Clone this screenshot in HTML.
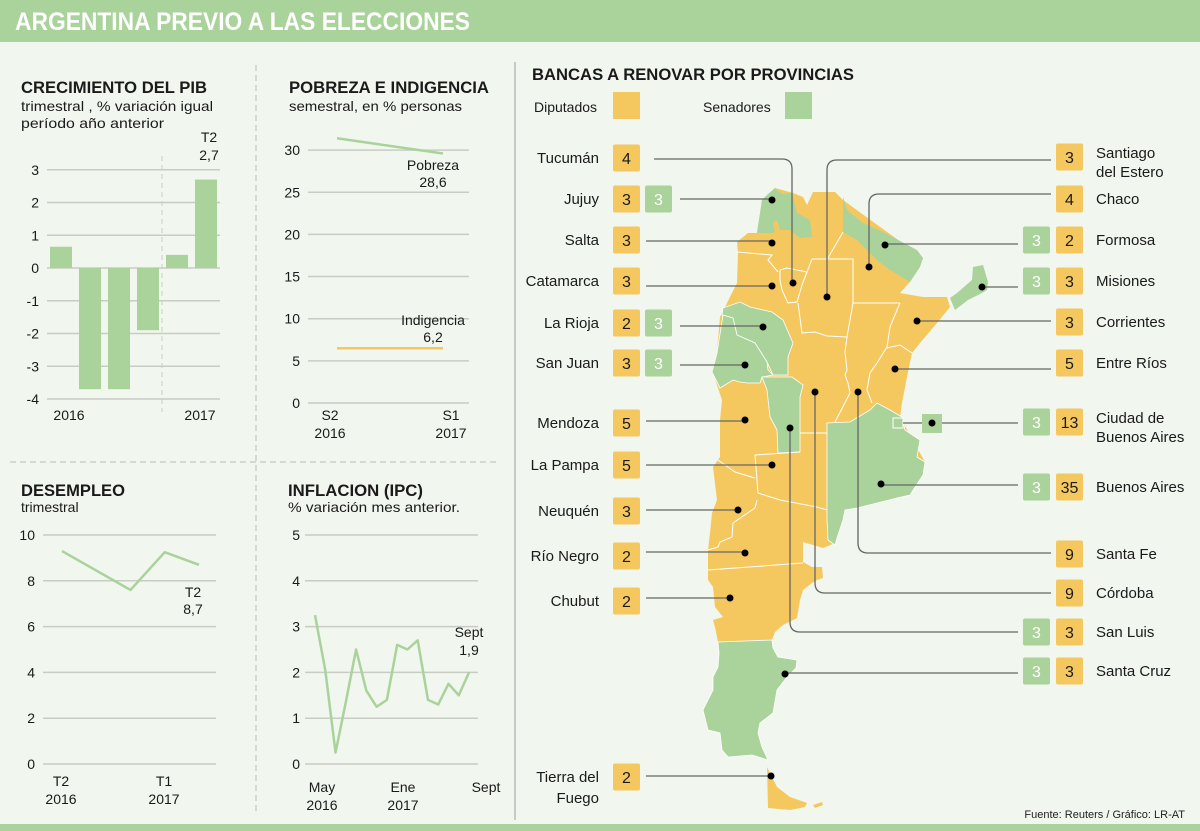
<!DOCTYPE html>
<html><head><meta charset="utf-8">
<style>
html,body{margin:0;padding:0;background:#f1f6ee;}
svg{display:block;font-family:"Liberation Sans",sans-serif;}
.t{font-size:14px;fill:#1a1a1a;}
.h{font-weight:bold;font-size:17px;fill:#1a1a1a;}
.g{stroke:#c8ccc4;stroke-width:1.5;}
</style></head>
<body>
<svg id="root" width="1200" height="831" viewBox="0 0 1200 831">
<rect x="0" y="0" width="1200" height="831" fill="#f1f6ee"/>
<rect x="0" y="0" width="1200" height="42" fill="#a9d39b"/>
<text x="15" y="30" fill="#fff" font-weight="bold" font-size="25" textLength="455" lengthAdjust="spacingAndGlyphs">ARGENTINA PREVIO A LAS ELECCIONES</text>
<rect x="0" y="824" width="1200" height="7" fill="#a9d39b"/>
<line x1="256" y1="65" x2="256" y2="815" stroke="#bbb" stroke-dasharray="6,4"/>
<line x1="10" y1="462" x2="500" y2="462" stroke="#bbb" stroke-dasharray="6,4"/>
<line x1="515" y1="62" x2="515" y2="820" stroke="#bbb" stroke-width="1.5"/>

<!-- PIB -->
<text x="21" y="93" class="h" textLength="186" lengthAdjust="spacingAndGlyphs">CRECIMIENTO DEL PIB</text>
<text x="21" y="111" class="t" textLength="192" lengthAdjust="spacingAndGlyphs">trimestral , % variación igual</text>
<text x="21" y="128" class="t" textLength="143" lengthAdjust="spacingAndGlyphs">período año anterior</text>
<g id="pib"></g>

<!-- Pobreza -->
<text x="289" y="93" class="h" textLength="200" lengthAdjust="spacingAndGlyphs">POBREZA E INDIGENCIA</text>
<text x="289" y="111" class="t" textLength="173" lengthAdjust="spacingAndGlyphs">semestral, en % personas</text>
<g id="pob"></g>

<!-- Desempleo -->
<text x="21" y="496" class="h" textLength="104" lengthAdjust="spacingAndGlyphs">DESEMPLEO</text>
<text x="21" y="512" class="t">trimestral</text>
<g id="des"></g>

<!-- Inflacion -->
<text x="288" y="496" class="h" textLength="135" lengthAdjust="spacingAndGlyphs">INFLACION (IPC)</text>
<text x="288" y="512" class="t" textLength="172" lengthAdjust="spacingAndGlyphs">% variación mes anterior.</text>
<g id="inf"></g>

<!-- Map section -->
<text x="532" y="80" class="h" textLength="322" lengthAdjust="spacingAndGlyphs">BANCAS A RENOVAR POR PROVINCIAS</text>
<text x="534" y="112" class="t" font-size="15">Diputados</text>
<rect x="613" y="92" width="27" height="27" fill="#f5c85f"/>
<text x="703" y="112" class="t" font-size="15">Senadores</text>
<rect x="785" y="92" width="27" height="27" fill="#a9d39b"/>

<g id="map">
<polygon fill="#f5c85f" points="737,242 748,233 757,233 762,200 775,188 793,193 803,197 807,205 813,192 835,192 843,200 923,258 910,282 900,293 923,297 947,297 950,307 937,323 920,343 912,353 907,377 902,403 900,417 925,462 910,495 845,510 835,543 823,548 803,542 803,562 812,567 822,567 823,578 817,580 812,583 803,590 800,600 797,618 783,625 775,632 772,640 718,642 715,627 713,620 723,617 715,607 713,587 708,580 708,550 710,533 712,513 717,500 713,467 720,457 720,420 722,400 718,388 712,370 717,352 720,317 730,297 737,283 738,253"/>
<polygon fill="#a9d39b" points="757,233 762,200 767,195 775,188 782,194 792,193 797,213 810,220 812,237 800,238 790,230 780,230 777,220 773,223 775,232 772,233"/>
<polygon fill="#a9d39b" points="843,197 847,210 863,223 883,232 917,250 923,258 920,267 910,282 890,270 877,260 857,240 843,232"/>
<polygon fill="#a9d39b" points="950,298 957,293 972,280 973,267 983,265 988,282 987,290 980,294 968,300 955,310"/>
<polygon fill="#a9d39b" stroke="#fff" stroke-width="0.8" points="722,315 723,308 740,302 750,307 772,312 783,320 793,343 788,357 788,375 773,375 767,362 755,343 737,335 733,318"/>
<polygon fill="#a9d39b" stroke="#fff" stroke-width="0.8" points="723,315 733,318 737,335 755,343 767,362 768,370 773,375 762,377 760,383 747,383 740,382 733,380 720,388 712,372 717,353"/>
<polygon fill="#a9d39b" stroke="#fff" stroke-width="0.8" points="762,377 792,377 803,385 800,397 800,452 778,453 777,430 770,417 767,390"/>
<polygon fill="#a9d39b" stroke="#fff" stroke-width="0.8" points="827,423 850,422 870,410 877,403 890,410 902,417 905,430 920,440 917,457 925,462 923,475 910,495 897,498 877,503 857,508 845,510 843,520 838,535 835,545 828,540 827,520"/>
<polygon fill="#a9d39b" stroke="#fff" stroke-width="0.8" points="718,642 772,640 773,648 778,657 797,660 796,668 787,677 777,690 773,713 760,723 758,733 762,747 768,760 752,755 728,757 722,750 720,733 708,730 703,710 708,700 713,690 713,677 718,667 719,653"/>
<polygon fill="#f5c85f" points="767,767 772,777 777,787 790,797 807,803 805,807 790,810 768,808"/>
<polygon fill="#f5c85f" points="813,805 822,802 823,805 815,808"/>
<g fill="none" stroke="#fff" stroke-width="1">
<polyline points="780,270 787,268 807,272 802,285 797,302 788,303 782,290 780,280 780,270"/>
<polyline points="802,285 812,259 853,259 853,303 847,337 827,336 815,332 802,333 798,303"/>
<polyline points="843,232 828,258"/>
<polyline points="853,303 900,303"/>
<polyline points="900,303 897,310 890,327 887,347 877,363 870,373 867,390 872,403"/>
<polyline points="887,348 900,345 912,353"/>
<polyline points="847,337 845,352 847,370 845,375 848,383 850,393 835,422"/>
<polyline points="800,433 827,433"/>
<polyline points="755,455 800,452"/>
<polyline points="755,455 758,493 780,500 817,507 827,510"/>
<polyline points="718,460 735,472 755,478"/>
<polyline points="757,500 755,508 733,523 732,537 720,542 718,547 708,550"/>
<polyline points="708,570 803,563"/>
<polyline points="737,252 772,255 768,260 778,272"/>
</g>
<rect x="893" y="418" width="10" height="10" fill="#a9d39b" stroke="#fff"/>
<rect x="922" y="414" width="20" height="19" fill="#a9d39b"/>
</g>
<g id="rows"></g>
<text x="1185" y="818" font-size="11" text-anchor="end" fill="#222">Fuente: Reuters / Gráfico: LR-AT</text>
</svg>
<script>
const NS='http://www.w3.org/2000/svg';
function mk(parent,tag,attrs,text){const e=document.createElementNS(NS,tag);for(const k in attrs)e.setAttribute(k,attrs[k]);if(text!==undefined)e.textContent=text;parent.appendChild(e);return e;}

// ---- PIB data
const pibCats=['2016a','2016b','2016c','2016d','2017a','2017b'];
const pibValues=[0.65,-3.7,-3.7,-1.9,0.4,2.7];
const pibTicks=[3,2,1,0,-1,-2,-3,-4];
// ---- Pobreza data
const pobCats=['S2 2016','S1 2017'];
const pobrezaValues=[31.4,29.6];
const indigenciaValues=[6.5,6.5];
const pobTicks=[30,25,20,15,10,5,0];
// ---- Desempleo data
const desCats=['T2 2016','T3 2016','T4 2016','T1 2017','T2 2017'];
const desValues=[9.3,null,7.6,9.25,8.7];
const desTicks=[10,8,6,4,2,0];
// ---- Inflacion data
const infCats=['May16','Jun16','Jul16','Ago16','Sep16','Oct16','Nov16','Dic16','Ene17','Feb17','Mar17','Abr17','May17','Jun17','Jul17','Ago17'];
const infValues=[3.25,2.05,0.25,1.35,2.5,1.6,1.25,1.4,2.6,2.5,2.7,1.4,1.3,1.75,1.5,2.0];
const infTicks=[5,4,3,2,1,0];

function grid(g,ticks,y,x1,x2,lx,name){ticks.forEach(v=>{
 const l=mk(g,'line',{x1:x1,x2:x2,y1:y(v),y2:y(v),class:'g'});
 
 
 const t=mk(g,'text',{x:lx,y:y(v)+5,class:'t','text-anchor':'end','font-size':'15'},String(v));
 
 
});}

// PIB
(function(){const g=document.getElementById('pib');
const y=v=>268-v*32.75;const bx=i=>50+i*29;
grid(g,pibTicks,y,47,220,39,'pib');
const d=mk(g,'line',{x1:162,x2:162,y1:156,y2:412,stroke:'#ccc','stroke-dasharray':'5,4'});

pibValues.forEach((v,i)=>{const r=mk(g,'rect',{x:bx(i),width:22,y:Math.min(y(v),y(0)),height:Math.abs(y(v)-y(0)),fill:'#a9d39b'});
 });
[['2016',69,420],['2017',200,420],['T2',209,142],['2,7',209,160]].forEach(a=>{const t=mk(g,'text',{x:a[1],y:a[2],class:'t','font-size':'15','text-anchor':'middle'},a[0]);
 });
})();

// Pobreza
(function(){const g=document.getElementById('pob');
const y=v=>403-v*8.43;const x=i=>337+i*106;
grid(g,pobTicks,y,308,469,300,'pobreza');
const p=mk(g,'polyline',{points:pobrezaValues.map((v,i)=>x(i)+','+y(v)).join(' '),fill:'none',stroke:'#a9d39b','stroke-width':2.5});

const q=mk(g,'polyline',{points:indigenciaValues.map((v,i)=>x(i)+','+y(v)).join(' '),fill:'none',stroke:'#f5c85f','stroke-width':2.5});

[['Pobreza',433,170],['28,6',433,187],['Indigencia',433,325],['6,2',433,342],['S2',330,420],['2016',330,438],['S1',451,420],['2017',451,438]].forEach(a=>{const t=mk(g,'text',{x:a[1],y:a[2],class:'t','font-size':'15','text-anchor':'middle'},a[0]);
 });
})();

// Desempleo
(function(){const g=document.getElementById('des');
const y=v=>764-v*22.9;const x=i=>62+i*34.25;
grid(g,desTicks,y,43,216,35,'desempleo');
const pts=[];desValues.forEach((v,i)=>{if(v!==null)pts.push(x(i)+','+y(v));});
const p=mk(g,'polyline',{points:pts.join(' '),fill:'none',stroke:'#a9d39b','stroke-width':2.5});

[['T2',193,597],['8,7',193,614],['T2',61,786],['2016',61,804],['T1',164,786],['2017',164,804]].forEach(a=>{const t=mk(g,'text',{x:a[1],y:a[2],class:'t','font-size':'15','text-anchor':'middle'},a[0]);
 });
})();

// Inflacion
(function(){const g=document.getElementById('inf');
const y=v=>764-v*45.8;const x=i=>315+i*10.27;
grid(g,infTicks,y,305,478,300,'inflacion');
const p=mk(g,'polyline',{points:infValues.map((v,i)=>x(i)+','+y(v)).join(' '),fill:'none',stroke:'#a9d39b','stroke-width':2.5,'stroke-linejoin':'round'});

[['Sept',469,637],['1,9',469,655],['May',322,792],['2016',322,810],['Ene',403,792],['2017',403,810],['Sept',486,792]].forEach(a=>{const t=mk(g,'text',{x:a[1],y:a[2],class:'t','font-size':'15','text-anchor':'middle'},a[0]);
 });
})();

// Province rows
const leftNames=['Tucumán','Jujuy','Salta','Catamarca','La Rioja','San Juan','Mendoza','La Pampa','Neuquén','Río Negro','Chubut','Tierra del|Fuego'];
const leftDip=[4,3,3,3,2,3,5,5,3,2,2,2];
const leftSen=[null,3,null,null,3,3,null,null,null,null,null,null];
const leftY=[158,199,240,281,323,363,423,465,511,556,601,777];
const rightNames=['Santiago|del Estero','Chaco','Formosa','Misiones','Corrientes','Entre Ríos','Ciudad de|Buenos Aires','Buenos Aires','Santa Fe','Córdoba','San Luis','Santa Cruz'];
const rightDip=[3,4,2,3,3,5,13,35,9,9,3,3];
const rightSen=[null,null,3,3,null,null,3,3,null,null,3,3];
const rightY=[157,199,240,281,322,363,422,487,554,593,632,671];
(function(){const g=document.getElementById('rows');
function box(x,y,fill,val,col){const r=mk(g,'rect',{x:x,y:y-13.5,width:27,height:27,rx:2,fill:fill});
 
 const t=mk(g,'text',{x:x+13.5,y:y+6,'text-anchor':'middle','font-size':'16',fill:col},String(val));
 }
leftNames.forEach((n,i)=>{const parts=n.split('|');const y=leftY[i];
 parts.forEach((p,j)=>{const t=mk(g,'text',{x:599,y:y+5+j*21-(parts.length>1?0:0),'text-anchor':'end','font-size':'15',fill:'#1a1a1a'},p);
  });
 box(613,y,'#f5c85f',leftDip[i],'#1a1a1a');
 if(leftSen[i]!==null)box(645,y,'#a9d39b',leftSen[i],'#fff');});
rightNames.forEach((n,i)=>{const parts=n.split('|');const y=rightY[i];
 parts.forEach((p,j)=>{const t=mk(g,'text',{x:1096,y:y+(parts.length>1?1:5)+j*19,'font-size':'15',fill:'#1a1a1a'},p);
  });
 box(1056,y,'#f5c85f',rightDip[i],'#1a1a1a');
 if(rightSen[i]!==null)box(1023,y,'#a9d39b',rightSen[i],'#fff');});
// leader lines
const lines=['M654,159 H782 Q792,159 792,169 V283','M680,199 H772','M646,241 H772','M646,286 H772','M680,326 H763','M680,365 H745','M646,421 H745','M646,465 H772','M646,510 H738','M646,552 H745','M646,598 H730','M646,776 H771',
'M1051,160 H837 Q827,160 827,170 V297','M1051,194 H879 Q869,194 869,204 V267','M1018,244 H885','M1018,287 H982','M1051,321 H917','M1051,369 H895','M903,423 H922','M942,423 H1018','M1018,485 H881',
'M1051,553 H868 Q858,553 858,543 V392','M1051,593 H825 Q815,593 815,583 V392','M1018,632 H800 Q790,632 790,622 V428','M1018,673 H785'];
lines.forEach(d=>{const p=mk(g,'path',{d:d,fill:'none',stroke:'#666','stroke-width':1.3});
 });
const dots=[[793,283],[772,200],[772,243],[772,286],[763,327],[745,365],[745,420],[772,465],[738,510],[745,553],[730,598],[771,776],[827,297],[869,267],[885,245],[982,287],[917,321],[895,369],[932,423],[881,484],[858,392],[815,392],[790,428],[785,674]];
dots.forEach(c=>{const e=mk(g,'circle',{cx:c[0],cy:c[1],r:3.5,fill:'#000'});
 });
})();
</script>
</body></html>
